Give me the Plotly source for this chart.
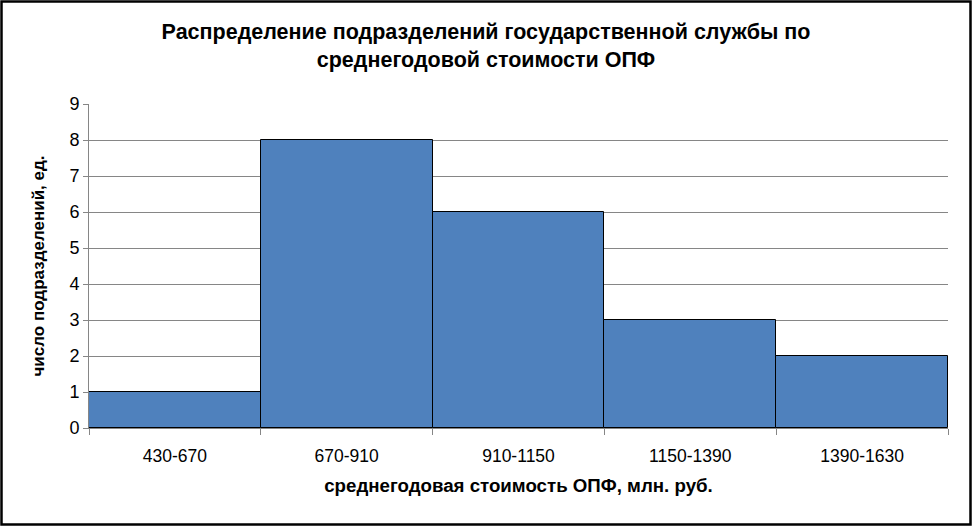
import plotly.graph_objects as go

categories = ["430-670", "670-910", "910-1150", "1150-1390", "1390-1630"]
counts = [1, 8, 6, 3, 2]
y_ticks = [0, 1, 2, 3, 4, 5, 6, 7, 8, 9]

W, H = 972, 526
L, R, T, B = 89, 24, 104, 98
pw, ph = W - L - R, H - T - B

fig = go.Figure(go.Bar(
    x=categories, y=counts, width=1,
    marker=dict(color="#4F81BD", line=dict(color="black", width=1)),
))

font = "Liberation Sans, Arial, sans-serif"
fig.update_layout(
    width=W, height=H,
    margin=dict(l=L, r=R, t=T, b=B),
    paper_bgcolor="white", plot_bgcolor="white",
    bargap=0,
    showlegend=False,
    font=dict(family=font, size=17, color="black"),
    title=dict(
        text="<b>Распределение подразделений государственной службы по<br>среднегодовой стоимости ОПФ</b>",
        x=0.5, xanchor="center", y=1 - 39 / H, yanchor="middle",
        font=dict(size=21.5, family=font),
    ),
    xaxis=dict(
        type="category", tickson="boundaries", ticks="outside", ticklen=6,
        tickcolor="#868686", showline=True, linecolor="#868686",
        showgrid=False, tickfont=dict(size=17.5), ticklabelstandoff=12,
        title=dict(text="<b>среднегодовая стоимость ОПФ, млн. руб.</b>", font=dict(size=18.7), standoff=13),
    ),
    yaxis=dict(
        range=[0, 9], tickvals=y_ticks, ticks="outside", ticklen=5,
        tickcolor="#868686", showline=True, linecolor="#868686",
        showgrid=True, gridcolor="#868686", gridwidth=1,
        tickfont=dict(size=18), zeroline=False,
        title=dict(text="<b>число подразделений, ед.</b>", font=dict(size=17), standoff=20),
    ),
)

# outer chart border
fig.add_shape(
    type="rect", xref="paper", yref="paper",
    x0=(1.5 - L) / pw, x1=(W - 1.5 - L) / pw,
    y0=-(B - 1.5) / ph,
    y1=1 + (T - 1.5) / ph,
    line=dict(color="black", width=2.5),
)

fig.write_html("out.html", config={"displayModeBar": False},
               post_script="document.body.style.margin='0';document.body.style.overflow='hidden';")
